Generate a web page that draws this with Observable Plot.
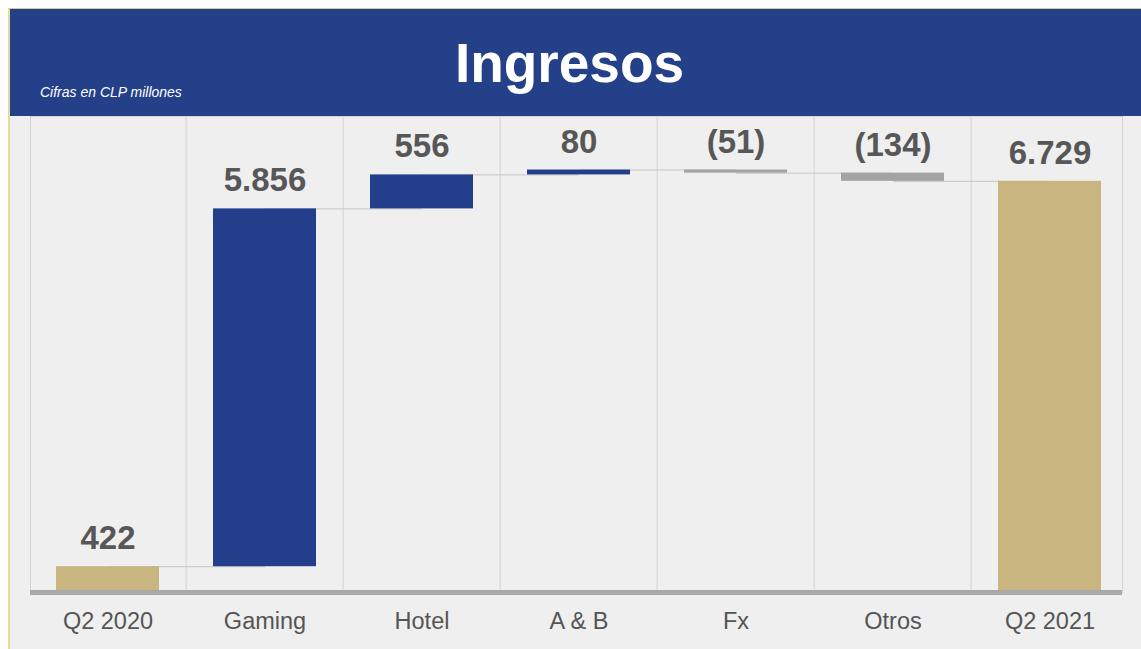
<!DOCTYPE html>
<html>
<head>
<meta charset="utf-8">
<script src="https://cdn.jsdelivr.net/npm/d3@7"></script>
<script src="https://cdn.jsdelivr.net/npm/@observablehq/plot@0.6"></script>
<style>
  html, body { margin: 0; padding: 0; background: #ffffff; }
  body { width: 1141px; height: 649px; overflow: hidden; position: relative; font-family: "Liberation Sans", Arial, sans-serif; }
  #frame { position: absolute; left: 8px; top: 8px; width: 1133px; height: 641px;
           border-left: 2px solid #e6d99c; border-top: 1px solid #d9c98f; background: #efefef; box-sizing: border-box; }
  #header { position: absolute; left: 0; top: 0; width: 100%; height: 107px; background: #234088; }
  #title { position: absolute; left: 0; width: 1119px; top: 22px; text-align: center; color: #ffffff;
           font-weight: bold; font-size: 55px; line-height: 64px; }
  #subtitle { position: absolute; left: 30px; top: 75px; color: #ffffff; font-style: italic; font-size: 14px; }
  #chart { position: absolute; left: 0; top: 107px; }
</style>
</head>
<body>
<div id="frame">
  <div id="header">
    <div id="title">Ingresos</div>
    <div id="subtitle">Cifras en CLP millones</div>
  </div>
  <div id="chart"></div>
</div>
<script>
const categories = ["Q2 2020", "Gaming", "Hotel", "A & B", "Fx", "Otros", "Q2 2021"];
const values = [422, 5856, 556, 80, -51, -134, 6729];
const kinds = ["total", "delta", "delta", "delta", "delta", "delta", "total"];

const locale = d3.formatLocale({decimal: ",", thousands: ".", grouping: [3], currency: ["$", ""]});
const fmtNum = locale.format(",d");
const fmt = v => v < 0 ? `(${fmtNum(-v)})` : fmtNum(v);

let cum = 0;
const rows = categories.map((c, i) => {
  const v = values[i];
  let start, end;
  if (kinds[i] === "total") { start = 0; end = v; cum = v; }
  else { start = cum; end = cum + v; cum = end; }
  const kind = kinds[i] === "total" ? "total" : (v >= 0 ? "up" : "down");
  return {category: c, value: v, start, end, top: Math.max(start, end), kind, label: fmt(v)};
});
const links = rows.slice(0, -1).map((r, i) => ({from: r.category, to: rows[i + 1].category, level: r.end}));

const W = 1131, H = 534;
const mL = 20, mR = 19;
const pInner = 0.341, pOuter = 0.1316;
const step = (W - mL - mR) / (categories.length - pInner + 2 * pOuter);

const chart = Plot.plot({
  width: W,
  height: H,
  marginLeft: mL,
  marginRight: mR,
  marginTop: 0,
  marginBottom: 58,
  style: {background: "transparent", fontFamily: "'Liberation Sans', Arial, sans-serif", color: "#555555", overflow: "visible"},
  x: {domain: categories, paddingInner: pInner, paddingOuter: pOuter, align: 0.554, label: null},
  y: {domain: [0, 7790], axis: null},
  color: {domain: ["total", "up", "down"], range: ["#c8b57f", "#233f8b", "#a3a3a3"]},
  marks: [
    Plot.frame({stroke: "#d2d2d2", strokeWidth: 1}),
    Plot.ruleX(categories.slice(1), {x: d => d, dx: -step / 2, stroke: "#d2d2d2", strokeWidth: 1}),
    Plot.link(links, {x1: "from", x2: "to", y1: "level", y2: "level", stroke: "#c6c6c6", strokeWidth: 1}),
    Plot.barY(rows, {x: "category", y1: "start", y2: "end", fill: "kind"}),
    Plot.text(rows, {x: "category", y: "top", text: "label", dy: -28, fontSize: 33, fontWeight: "bold", fill: "#575757"}),
    Plot.ruleY([0], {stroke: "#a9a9a9", strokeWidth: 5}),
    Plot.axisX({tickSize: 0, tickPadding: 20, fontSize: 23.5, fill: "#555555", label: null})
  ]
});
document.getElementById("chart").appendChild(chart);
</script>
</body>
</html>
